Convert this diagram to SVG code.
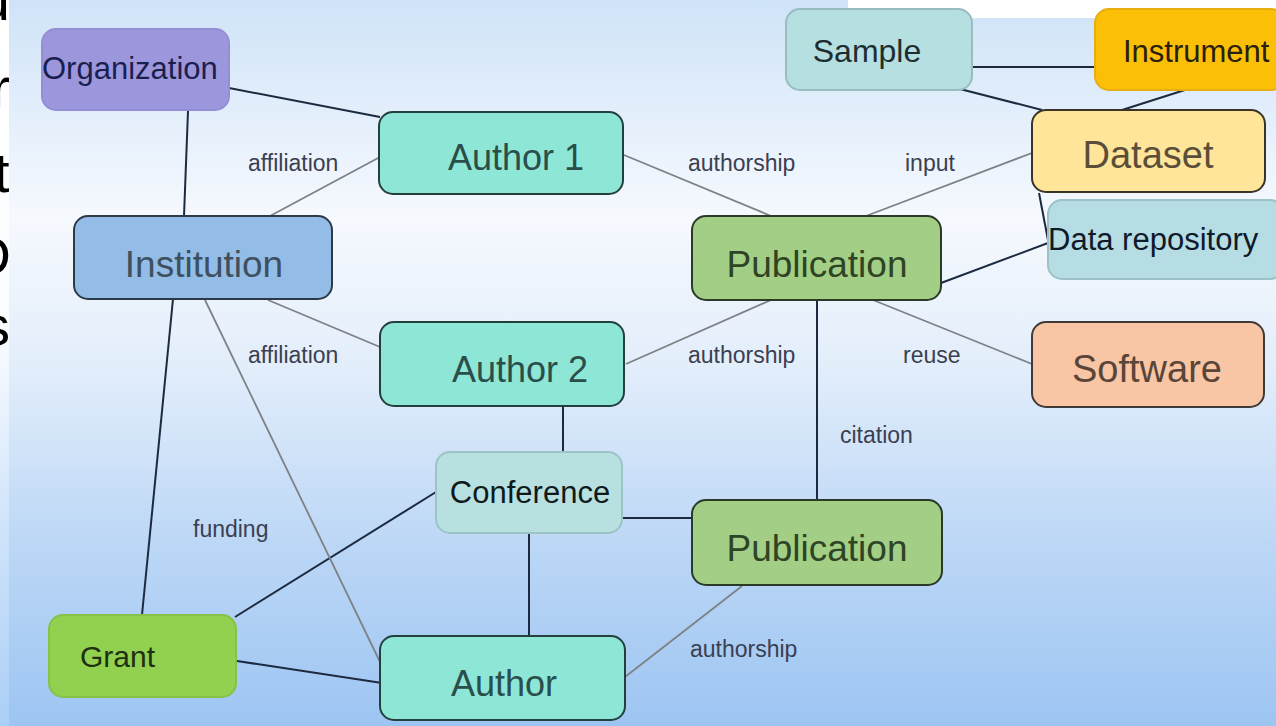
<svg xmlns="http://www.w3.org/2000/svg" width="1276" height="726" viewBox="0 0 1276 726">
<defs>
<linearGradient id="bg" x1="0" y1="0" x2="0" y2="1">
<stop offset="0" stop-color="#cfe3f8"/>
<stop offset="0.3" stop-color="#f6f9fe"/>
<stop offset="0.5" stop-color="#e3eefb"/>
<stop offset="0.75" stop-color="#bcd7f6"/>
<stop offset="1" stop-color="#9dc5f2"/>
</linearGradient>
<linearGradient id="strip" x1="0" y1="0" x2="0" y2="1">
<stop offset="0" stop-color="#ffffff"/>
<stop offset="0.45" stop-color="#fbfdff"/>
<stop offset="0.7" stop-color="#d3e6fa"/>
<stop offset="1" stop-color="#aacff6"/>
</linearGradient>
<clipPath id="edge"><rect x="0" y="0" width="9" height="726"/></clipPath>
</defs>
<style>
.node rect{stroke-width:2}
.t{font-family:"Liberation Sans",Arial,sans-serif}
.lbl{font-family:"Liberation Sans",Arial,sans-serif;font-size:23px;fill:#3a4050}
.dk{stroke:#1c2a40;stroke-width:2;fill:none}
.gr{stroke:#7e8286;stroke-width:1.8;fill:none}
.frag{font-family:"Liberation Sans",Arial,sans-serif;font-size:56px;fill:#000}
</style>
<rect x="0" y="0" width="1276" height="726" fill="url(#bg)"/>
<rect x="0" y="0" width="9" height="726" fill="url(#strip)"/>
<rect x="848" y="0" width="428" height="18" fill="#ffffff"/>
<g clip-path="url(#edge)">
<text class="frag" x="10" y="20" text-anchor="end">u</text>
<text class="frag" x="10" y="107" text-anchor="end">r</text>
<text class="frag" x="-6" y="192">t</text>
<text class="frag" x="11" y="275" text-anchor="end">D</text>
<text class="frag" x="10" y="345" text-anchor="end">s</text>
</g>
<g id="connectors">
<line class="dk" x1="229" y1="88" x2="380" y2="117"/>
<line class="dk" x1="188" y1="111" x2="184" y2="216"/>
<line class="dk" x1="173" y1="299" x2="142" y2="615"/>
<line class="dk" x1="235" y1="617" x2="436" y2="492"/>
<line class="dk" x1="237" y1="661" x2="382" y2="683"/>
<line class="dk" x1="563" y1="406" x2="563" y2="452"/>
<line class="dk" x1="529" y1="533" x2="529" y2="636"/>
<line class="dk" x1="622" y1="518" x2="696" y2="518"/>
<line class="dk" x1="817" y1="300" x2="817" y2="500"/>
<line class="dk" x1="941" y1="283" x2="1048" y2="243"/>
<line class="dk" x1="1039" y1="193" x2="1048" y2="240"/>
<line class="dk" x1="972" y1="67" x2="1095" y2="67"/>
<line class="dk" x1="960" y1="89" x2="1042" y2="110"/>
<line class="dk" x1="1188" y1="89" x2="1122" y2="110"/>
<line class="gr" x1="380" y1="157" x2="270" y2="216"/>
<line class="gr" x1="268" y1="300" x2="380" y2="347"/>
<line class="gr" x1="205" y1="300" x2="381" y2="664"/>
<line class="gr" x1="624" y1="155" x2="771" y2="216"/>
<line class="gr" x1="1032" y1="153" x2="866" y2="216"/>
<line class="gr" x1="626" y1="364" x2="771" y2="300"/>
<line class="gr" x1="873" y1="300" x2="1032" y2="364"/>
<line class="gr" x1="742" y1="586" x2="625" y2="677"/>
<text class="lbl" x="248" y="171">affiliation</text>
<text class="lbl" x="688" y="171">authorship</text>
<text class="lbl" x="905" y="171">input</text>
<text class="lbl" x="248" y="363">affiliation</text>
<text class="lbl" x="688" y="363">authorship</text>
<text class="lbl" x="903" y="363">reuse</text>
<text class="lbl" x="840" y="443">citation</text>
<text class="lbl" x="193" y="537">funding</text>
<text class="lbl" x="690" y="657">authorship</text>
</g>
<g id="organization" class="node">
<rect x="42" y="29" width="187" height="81" rx="14" fill="#9c97dd" stroke="#938ed6"/>
<text class="t" x="42" y="79" font-size="31" fill="#1b1f4f">Organization</text>
</g>
<g id="institution" class="node">
<rect x="74" y="216" width="258" height="83" rx="14" fill="#93bde6" stroke="#2c3a48"/>
<text class="t" x="204" y="277" font-size="37" fill="#3e5060" text-anchor="middle">Institution</text>
</g>
<g id="author1" class="node">
<rect x="379" y="112" width="244" height="82" rx="14" fill="#8ee6d6" stroke="#24403c"/>
<text class="t" x="516" y="170" font-size="36" fill="#2a4e4a" text-anchor="middle">Author 1</text>
</g>
<g id="author2" class="node">
<rect x="380" y="322" width="244" height="84" rx="14" fill="#8ee6d6" stroke="#24403c"/>
<text class="t" x="520" y="382" font-size="36" fill="#2a4e4a" text-anchor="middle">Author 2</text>
</g>
<g id="author" class="node">
<rect x="380" y="636" width="245" height="84" rx="14" fill="#8ee6d6" stroke="#24403c"/>
<text class="t" x="504" y="696" font-size="36" fill="#2a4e4a" text-anchor="middle">Author</text>
</g>
<g id="publication1" class="node">
<rect x="692" y="216" width="249" height="84" rx="14" fill="#a2cf85" stroke="#2a3a26"/>
<text class="t" x="817" y="277" font-size="37" fill="#2f4425" text-anchor="middle">Publication</text>
</g>
<g id="publication2" class="node">
<rect x="692" y="500" width="250" height="85" rx="14" fill="#a2cf85" stroke="#2a3a26"/>
<text class="t" x="817" y="561" font-size="37" fill="#2f4425" text-anchor="middle">Publication</text>
</g>
<g id="conference" class="node">
<rect x="436" y="452" width="186" height="81" rx="14" fill="#b8e0e0" stroke="#9cc4c6"/>
<text class="t" x="530" y="503" font-size="31" fill="#101a1a" text-anchor="middle">Conference</text>
</g>
<g id="grant" class="node">
<rect x="49" y="615" width="187" height="82" rx="14" fill="#92d050" stroke="#86c24a"/>
<text class="t" x="80" y="667" font-size="30" fill="#1e3010">Grant</text>
</g>
<g id="sample" class="node">
<rect x="786" y="9" width="186" height="81" rx="14" fill="#b5dfe0" stroke="#98bcc0"/>
<text class="t" x="867" y="62" font-size="32" fill="#1e2e30" text-anchor="middle">Sample</text>
</g>
<g id="instrument" class="node">
<rect x="1095" y="9" width="190" height="81" rx="14" fill="#fcbf08" stroke="#e8ad10"/>
<text class="t" x="1123" y="62" font-size="31" fill="#2a2010">Instrument</text>
</g>
<g id="dataset" class="node">
<rect x="1032" y="110" width="233" height="82" rx="14" fill="#fee599" stroke="#3a3428"/>
<text class="t" x="1148" y="168" font-size="38" fill="#5a4e3a" text-anchor="middle">Dataset</text>
</g>
<g id="data-repository" class="node">
<rect x="1048" y="200" width="236" height="79" rx="14" fill="#b5dde3" stroke="#9cc2c8"/>
<text class="t" x="1048" y="250" font-size="31" fill="#101a2a">Data repository</text>
</g>
<g id="software" class="node">
<rect x="1032" y="322" width="232" height="85" rx="14" fill="#f9c6a5" stroke="#3e3a36"/>
<text class="t" x="1147" y="382" font-size="38" fill="#5a4538" text-anchor="middle">Software</text>
</g>
</svg>
